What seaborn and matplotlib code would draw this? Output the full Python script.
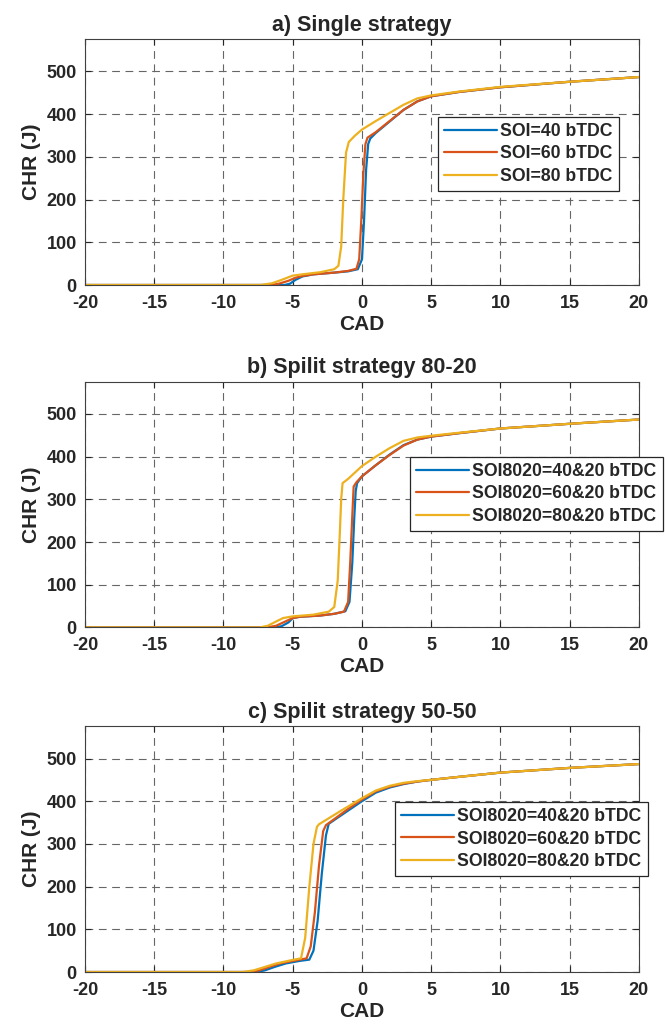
import pandas as pd
import matplotlib.pyplot as plt
import seaborn as sns

# ---- data (CAD vs CHR in J) ----
labels_a = ["SOI=40 bTDC", "SOI=60 bTDC", "SOI=80 bTDC"]
labels_bc = ["SOI8020=40&20 bTDC", "SOI8020=60&20 bTDC", "SOI8020=80&20 bTDC"]

# a) single strategy
a40_x = [-20, -5.6, -5.2, -4.8, -4.3, -3.5, -2, -1, -0.3, 0.0, 0.15, 0.3, 0.45, 0.6, 1, 2, 3, 4, 5, 7, 10, 15, 20]
a40_y = [0, 0, 3, 12, 20, 25, 29, 32, 37, 60, 150, 270, 330, 343, 356, 383, 410, 430, 442, 452, 463, 476, 487]
a60_x = [-20, -6.6, -6, -5.3, -4.8, -4.3, -3.5, -2, -1, -0.4, -0.2, -0.05, 0.1, 0.25, 0.4, 1, 2, 3, 4, 5, 7, 10, 15, 20]
a60_y = [0, 0, 3, 10, 17, 21, 25, 29, 33, 38, 60, 150, 260, 330, 345, 358, 384, 410, 430, 442, 452, 463, 476, 487]
a80_x = [-20, -7.3, -6.5, -5.8, -5.0, -4.3, -3, -2, -1.7, -1.5, -1.35, -1.15, -0.95, -0.5, 0, 1, 2, 3, 4, 5, 7, 10, 15, 20]
a80_y = [0, 0, 4, 12, 22, 25, 30, 37, 45, 90, 200, 310, 335, 350, 364, 384, 403, 422, 437, 444, 453, 464, 476, 487]

# b) split strategy 80-20
b40_x = [-20, -6.3, -5.8, -5.3, -5.0, -4.5, -3, -2, -1.2, -0.9, -0.7, -0.55, -0.45, -0.35, 0, 1, 2, 3, 4, 5, 7, 10, 15, 20]
b40_y = [0, 0, 3, 12, 22, 25, 28, 32, 38, 60, 150, 260, 320, 338, 354, 380, 405, 427, 440, 447, 455, 466, 477, 487]
b60_x = [-20, -6.9, -6.2, -5.6, -5.0, -4.5, -3, -2, -1.3, -1.0, -0.85, -0.7, -0.6, -0.4, 0, 1, 2, 3, 4, 5, 7, 10, 15, 20]
b60_y = [0, 0, 4, 13, 22, 25, 28, 32, 37, 60, 150, 260, 330, 340, 354, 380, 404, 426, 440, 447, 455, 466, 477, 487]
b80_x = [-20, -7.4, -6.8, -6.2, -5.7, -5, -3.5, -2.4, -2.0, -1.75, -1.6, -1.5, -1.4, -1.0, 0, 1, 2, 3, 4, 5, 7, 10, 15, 20]
b80_y = [0, 0, 4, 14, 22, 26, 30, 37, 48, 110, 220, 300, 338, 348, 378, 400, 420, 437, 445, 449, 456, 466, 477, 487]

# c) split strategy 50-50
c40_x = [-20, -7.6, -7, -6.3, -5.5, -4.5, -3.8, -3.5, -3.2, -2.9, -2.6, -2.4, -2, -1, 0, 1, 2, 3, 4, 5, 7, 10, 15, 20]
c40_y = [0, 0, 4, 12, 20, 26, 29, 50, 120, 230, 320, 347, 356, 378, 400, 420, 432, 440, 446, 450, 457, 467, 478, 487]
c60_x = [-20, -8.1, -7.4, -6.6, -5.8, -4.8, -4.0, -3.7, -3.4, -3.1, -2.8, -2.6, -2, -1, 0, 1, 2, 3, 4, 5, 7, 10, 15, 20]
c60_y = [0, 0, 4, 13, 21, 27, 32, 60, 140, 250, 330, 344, 358, 382, 404, 423, 434, 441, 446, 450, 457, 467, 478, 487]
c80_x = [-20, -8.6, -7.8, -7, -6.2, -5.2, -4.4, -4.1, -3.8, -3.5, -3.25, -3.1, -2.5, -1.5, 0, 1, 2, 3, 4, 5, 7, 10, 15, 20]
c80_y = [0, 0, 4, 12, 20, 27, 32, 80, 200, 300, 340, 346, 358, 378, 407, 425, 436, 443, 447, 450, 457, 467, 478, 487]

titles = ["a) Single strategy", "b) Spilit strategy 80-20", "c) Spilit strategy 50-50"]
colors = ["#0072BD", "#D95319", "#EDB120"]


def make_df(xs, ys, labels):
    parts = []
    for x, y, lab in zip(xs, ys, labels):
        parts.append(pd.DataFrame({"CAD": x, "CHR": y, "case": lab}))
    return pd.concat(parts, ignore_index=True)


panels = [
    make_df([a40_x, a60_x, a80_x], [a40_y, a60_y, a80_y], labels_a),
    make_df([b40_x, b60_x, b80_x], [b40_y, b60_y, b80_y], labels_bc),
    make_df([c40_x, c60_x, c80_x], [c40_y, c60_y, c80_y], labels_bc),
]
legend_anchor = [(0.964, 0.683), (1.043, 0.693), (1.016, 0.691)]

sns.set_style("ticks")
plt.rcParams["font.family"] = ["Liberation Sans", "DejaVu Sans"]
plt.rcParams["font.weight"] = "bold"
plt.rcParams["axes.unicode_minus"] = False

fig = plt.figure(figsize=(6.65, 10.30), dpi=100)
bottoms = [0.7233, 0.3908, 0.0563]

for i, df in enumerate(panels):
    ax = fig.add_axes([0.1278, bottoms[i], 0.833, 0.2388])
    labs = df["case"].unique().tolist()
    sns.lineplot(data=df, x="CAD", y="CHR", hue="case", hue_order=labs,
                 palette=colors, estimator=None, sort=False, linewidth=1.6, ax=ax)
    ax.set_xlim(-20, 20)
    ax.set_ylim(0, 576)
    ax.set_xticks(range(-20, 21, 5))
    ax.set_yticks(range(0, 501, 100))
    ax.grid(True, color="0.4", linestyle=(0, (7, 5)), linewidth=0.8)
    ax.tick_params(direction="in", top=True, right=True, labelsize=13, length=4, width=0.8)
    ax.tick_params(axis="x", pad=7)
    ax.tick_params(axis="y", pad=6)
    for t in ax.get_xticklabels() + ax.get_yticklabels():
        t.set_fontweight("bold")
    for s in ax.spines.values():
        s.set_color("0.25")
        s.set_linewidth(0.8)
    ax.set_xlabel("CAD", fontsize=15, fontweight="bold", labelpad=2)
    ax.set_ylabel("CHR (J)", fontsize=15, fontweight="bold", labelpad=4)
    ax.set_title(titles[i], fontsize=15.5, fontweight="bold", pad=6)
    handles, lbls = ax.get_legend_handles_labels()
    leg = ax.legend(handles, lbls, loc="upper right", bbox_to_anchor=legend_anchor[i],
                    borderaxespad=0, fancybox=False, framealpha=1, edgecolor="0.15",
                    prop={"size": 12.7, "weight": "bold"}, handlelength=3,
                    handletextpad=0.2, labelspacing=0.3, borderpad=0.35)
    leg.get_frame().set_linewidth(0.9)
    for h in leg.get_lines():
        h.set_linewidth(1.6)

fig.savefig("out.png", dpi=100)
